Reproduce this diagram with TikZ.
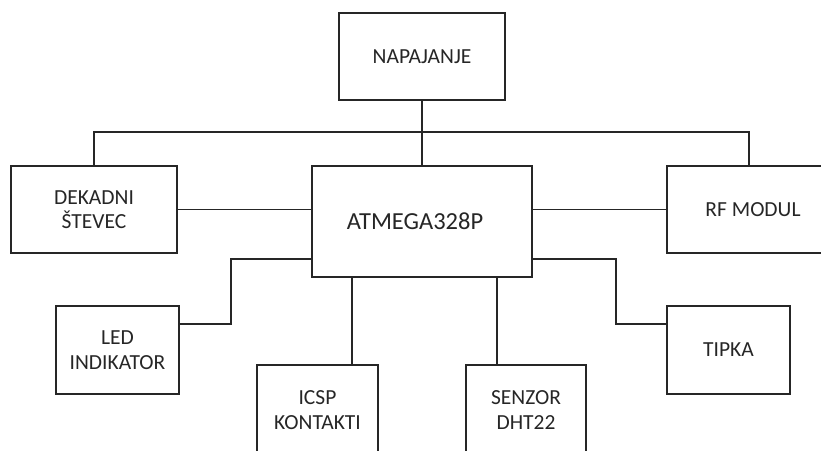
\documentclass[tikz,border=0pt]{standalone}
\usepackage{fontspec}
\setmainfont{Carlito}
\begin{document}
\begin{tikzpicture}[x=1pt,y=-1pt,
  blockbox/.style={draw=black!85, line width=1.6pt, rectangle, inner sep=0pt, align=center,
    font=\fontsize{21.5}{24.5}\selectfont, text=black!85},
  wire/.style={draw=black!85, line width=1.6pt}]
\useasboundingbox (0,0) rectangle (821,450);
\clip (0,0) rectangle (821,450);
\node[blockbox, minimum width=166pt, minimum height=87pt] (nap) at (422,56.5) {NAPAJANJE};
\node[blockbox, minimum width=166pt, minimum height=87pt] (dek) at (94,209.5) {DEKADNI\\ŠTEVEC};
\node[blockbox, minimum width=220pt, minimum height=111pt, font=\fontsize{24.5}{28}\selectfont] (atm) at (422,221.5) {\hspace*{-14pt}ATMEGA328P};
\node[blockbox, minimum width=164pt, minimum height=87pt] (rf) at (749,209.5) {\hspace*{8pt}RF MODUL};
\node[blockbox, minimum width=123pt, minimum height=88pt] (led) at (117.5,350) {LED\\INDIKATOR};
\node[blockbox, minimum width=121pt, minimum height=90pt] (icsp) at (317.5,410) {ICSP\\KONTAKTI};
\node[blockbox, minimum width=120pt, minimum height=90pt] (sen) at (526,410) {SENZOR\\DHT22};
\node[blockbox, minimum width=123pt, minimum height=88pt] (tip) at (728.5,350) {TIPKA};
% power
\draw[wire] (nap.south) -- (atm.north);
\draw[wire] (dek.north) -- ++(0,-33) -| (rf.north);
% side links
\draw[wire] (dek.east) -- (dek.east -| atm.west);
\draw[wire] (atm.east |- rf.west) -- (rf.west);
% lower links
\draw[wire] ([yshift=19pt]atm.south west) -- ++(-80,0) |- ([yshift=26pt]led.east);
\draw[wire] ([yshift=19pt]atm.south east) -- ++(83,0) |- ([yshift=26pt]tip.west);
\draw[wire] ([xshift=-70pt]atm.south) -- ([xshift=-70pt]atm.south |- icsp.north);
\draw[wire] ([xshift=75pt]atm.south) -- ([xshift=75pt]atm.south |- sen.north);
\end{tikzpicture}
\end{document}
